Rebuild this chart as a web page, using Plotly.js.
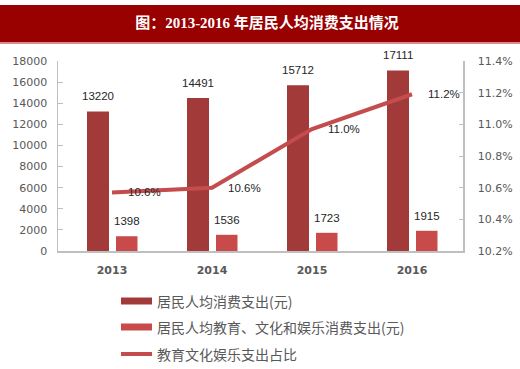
<!DOCTYPE html>
<html>
<head>
<meta charset="utf-8">
<script src="https://cdn.plot.ly/plotly-3.0.1.min.js"></script>
<style>html,body{margin:0;padding:0;background:#fff;}#chart{width:520px;height:369px;}</style>
</head>
<body>
<div id="chart"></div>
<script>
// ---- data ----
const years = ['2013', '2014', '2015', '2016'];
const consumption = [13220, 14491, 15712, 17111];          // 居民人均消费支出(元)
const eduCulture = [1398, 1536, 1723, 1915];               // 居民人均教育、文化和娱乐消费支出(元)
const sharePct = [10.57, 10.60, 10.97, 11.19];              // 教育文化娱乐支出占比 (%)
const shareLabels = ['10.6%', '10.6%', '11.0%', '11.2%'];
const seriesNames = ['居民人均消费支出(元)', '居民人均教育、文化和娱乐消费支出(元)', '教育文化娱乐支出占比'];
const titleText = '图：2013-2016 年居民人均消费支出情况';

// ---- styles ----
const cDark = '#A23A3A', cLight = '#C84A4A', cLine = '#C54C4C';
const axisGray = '#BFBFBF', tickGray = '#595959';
const cjk = '"Noto Sans CJK SC", sans-serif';

// pixel -> paper helpers (plot area: x 58..463, y 61..251)
const L = 58, R = 57, T = 61, B = 118, W = 520, H = 369;
const pw = W - L - R, ph = H - T - B;
const px = v => (v - L) / pw;
const py = v => (H - B - v) / ph;

const traces = [
  {type: 'bar', x: years, y: consumption, name: seriesNames[0], marker: {color: cDark},
   width: 0.22, offset: -0.25, showlegend: false, hoverinfo: 'skip'},
  {type: 'bar', x: years, y: eduCulture, name: seriesNames[1], marker: {color: cLight},
   width: 0.215, offset: 0.04, showlegend: false, hoverinfo: 'skip'},
  {type: 'scatter', mode: 'lines', x: years, y: sharePct, yaxis: 'y2', name: seriesNames[2],
   line: {color: cLine, width: 4}, showlegend: false, hoverinfo: 'skip'}
];

const annotations = [];
const labelFont = {family: '"Liberation Sans", Arial, sans-serif', size: 11.5, color: '#262626'};
years.forEach((yr, i) => {
  annotations.push({x: i - 0.14, y: consumption[i], xref: 'x', yref: 'y', text: String(consumption[i]),
    showarrow: false, yshift: 15, font: labelFont});
  annotations.push({x: i + 0.145, y: eduCulture[i], xref: 'x', yref: 'y', text: String(eduCulture[i]),
    showarrow: false, yshift: 15, font: labelFont});
  annotations.push({x: i, y: sharePct[i], xref: 'x', yref: 'y2', text: shareLabels[i],
    showarrow: false, xshift: 32, yshift: 0, font: labelFont});
});

// custom legend
const legendY = [301, 327, 354];
const legendColors = [cDark, cLight, cLine];
const shapes = [
  {type: 'rect', xref: 'paper', yref: 'paper', x0: px(0), x1: px(W), y0: py(5), y1: py(42),
   fillcolor: '#990000', line: {width: 0}, layer: 'below'},
  {type: 'rect', xref: 'paper', yref: 'paper', x0: px(0), x1: px(W), y0: py(42), y1: py(44),
   fillcolor: '#D98C8C', line: {width: 0}, layer: 'below'}
];
seriesNames.forEach((nm, i) => {
  const h = i === 2 ? 2 : 3.5;
  shapes.push({type: 'rect', xref: 'paper', yref: 'paper', x0: px(121), x1: px(152),
    y0: py(legendY[i] + h), y1: py(legendY[i] - h), fillcolor: legendColors[i], line: {width: 0}});
  annotations.push({xref: 'paper', yref: 'paper', x: px(155), y: py(legendY[i]), xanchor: 'left',
    yanchor: 'middle', text: nm, showarrow: false, font: {family: cjk, size: 14, color: tickGray}});
});

const layout = {
  width: W, height: H,
  margin: {l: L, r: R, t: T, b: B, pad: 0},
  paper_bgcolor: '#fff', plot_bgcolor: '#fff',
  showlegend: false,
  barmode: 'overlay',
  title: {text: titleText, x: 267 / W, xanchor: 'center', y: 1 - 23 / H, yanchor: 'middle',
    font: {family: '"Liberation Serif", "Noto Sans CJK SC", serif', size: 15, color: '#ffffff', weight: 'bold'}},
  xaxis: {type: 'category', range: [-0.54, 3.51], showgrid: false, zeroline: false,
    showline: true, linecolor: axisGray, linewidth: 1.5, ticks: '',
    tickfont: {family: '"DejaVu Sans", sans-serif', size: 11, color: tickGray, weight: 'bold'},
    ticklabelstandoff: 8},
  yaxis: {range: [0, 18000], dtick: 2000, tickformat: 'd', showgrid: false, zeroline: false,
    showline: true, linecolor: axisGray, linewidth: 1.5, ticks: 'inside', ticklen: 5, tickcolor: axisGray,
    tickfont: {family: '"DejaVu Sans", sans-serif', size: 11, color: tickGray}, ticklabelstandoff: 7},
  yaxis2: {overlaying: 'y', side: 'right', range: [10.2, 11.4], dtick: 0.2, tickformat: '.1f', ticksuffix: '%',
    showgrid: false, zeroline: false, showline: true, linecolor: axisGray, linewidth: 1.5,
    ticks: 'inside', ticklen: 4, tickcolor: axisGray,
    tickfont: {family: '"DejaVu Sans", sans-serif', size: 11, color: tickGray}, ticklabelstandoff: 11},
  shapes: shapes,
  annotations: annotations
};

Plotly.newPlot('chart', traces, layout, {staticPlot: true, displayModeBar: false});
</script>
</body>
</html>
